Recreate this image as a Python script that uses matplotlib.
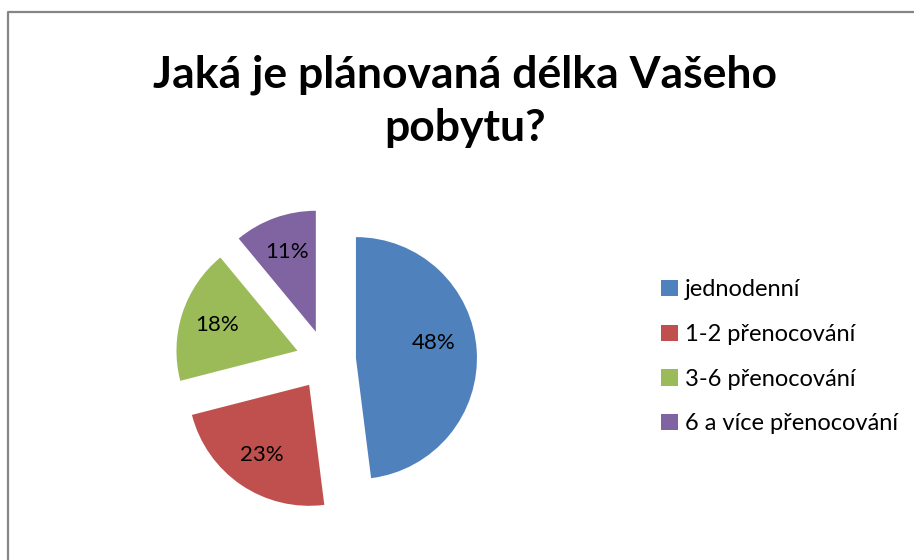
import matplotlib
matplotlib.use("Agg")
import matplotlib.pyplot as plt
from matplotlib.lines import Line2D

plt.rcParams['font.family'] = ['Lato', 'DejaVu Sans']

categories = ["jednodenní", "1-2 přenocování", "3-6 přenocování", "6 a více přenocování"]
values = [48, 23, 18, 11]
colors = ["#4F81BD", "#C0504D", "#9BBB59", "#8064A2"]
title = "Jaká je plánovaná délka Vašeho\npobytu?"

W, H = 914, 560
fig = plt.figure(figsize=(W / 100, H / 100), dpi=100)
ax = fig.add_axes([0, 0, 1, 1])
ax.set_xlim(0, W)
ax.set_ylim(0, H)
ax.set_aspect('equal')
ax.axis('off')

wedges, texts, autotexts = ax.pie(
    values, colors=colors, startangle=90, counterclock=False,
    center=(326, H - 360), radius=121, explode=[30] * len(values),
    autopct='%1.0f%%', pctdistance=0.7,
    textprops=dict(fontsize=16, color='black'),
    wedgeprops=dict(linewidth=0))
ax.set_xlim(0, W)
ax.set_ylim(0, H)
# nudge the large slice's label toward where the original places it
x0, y0 = autotexts[0].get_position()
autotexts[0].set_position((x0 - 7, y0 + 10))

fig.text(465 / W, 1 - 101 / H, title, ha='center', va='center',
         fontsize=32, fontweight='bold', linespacing=1.38)

leg = fig.legend(wedges, categories, loc='upper left',
                 bbox_to_anchor=(652 / W, 1 - 270 / H), frameon=False,
                 fontsize=17, handlelength=0.7, handleheight=0.7,
                 handletextpad=0.3, labelspacing=1.0, borderaxespad=0)

fig.add_artist(Line2D([8 / W, 8 / W, 1], [0, 1 - 12 / H, 1 - 12 / H],
                      transform=fig.transFigure, color='#868686', linewidth=1.6))

fig.savefig("out.png", dpi=100, facecolor='white')
